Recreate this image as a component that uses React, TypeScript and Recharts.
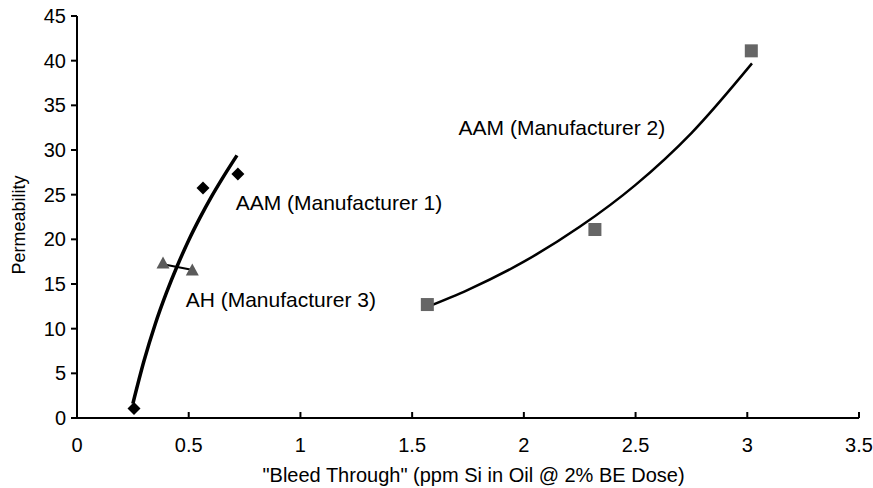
import React from 'react';
import { ComposedChart, XAxis, YAxis, Line, Scatter } from 'recharts';

// Marker data
const manufacturer1Points = [
  { x: 0.255, y: 1.05 },
  { x: 0.564, y: 25.75 },
  { x: 0.72, y: 27.3 },
];
const manufacturer2Points = [
  { x: 1.568, y: 12.7 },
  { x: 2.318, y: 21.1 },
  { x: 3.018, y: 41.1 },
];
const manufacturer3Points = [
  { x: 0.385, y: 17.3 },
  { x: 0.516, y: 16.5 },
];

// Trendlines, points
const trend1 = [
  { x: 0.25, y: 1.6 },
  { x: 0.3, y: 6.4 },
  { x: 0.35, y: 10.5 },
  { x: 0.4, y: 14.0 },
  { x: 0.45, y: 17.1 },
  { x: 0.5, y: 19.9 },
  { x: 0.55, y: 22.4 },
  { x: 0.6, y: 24.7 },
  { x: 0.65, y: 26.8 },
  { x: 0.716, y: 29.4 },
];
const trend2 = [
  { x: 1.564, y: 12.4 },
  { x: 1.75, y: 14.35 },
  { x: 2.0, y: 17.5 },
  { x: 2.25, y: 21.4 },
  { x: 2.5, y: 26.1 },
  { x: 2.75, y: 31.9 },
  { x: 3.021, y: 39.7 },
];
const trend3 = [
  { x: 0.385, y: 17.2 },
  { x: 0.513, y: 16.6 },
];

const annotations = [
  { x: 1.708, y: 31.72, label: 'AAM (Manufacturer 2)' },
  { x: 0.71, y: 23.33, label: 'AAM (Manufacturer 1)' },
  { x: 0.4865, y: 12.45, label: 'AH (Manufacturer 3)' },
];

const xTicks = [0, 0.5, 1, 1.5, 2, 2.5, 3, 3.5];
const yTicks = [0, 5, 10, 15, 20, 25, 30, 35, 40, 45];

const FONT = "Arial, 'Liberation Sans', sans-serif";

const Diamond = (p: any) => (
  <polygon
    points={`${p.cx},${p.cy - 6.5} ${p.cx + 6.5},${p.cy} ${p.cx},${p.cy + 6.5} ${p.cx - 6.5},${p.cy}`}
    fill="#000000"
  />
);
const Square = (p: any) => (
  <rect x={p.cx - 6.5} y={p.cy - 6.5} width={13} height={13} fill="#666666" />
);
const Triangle = (p: any) => (
  <polygon
    points={`${p.cx},${p.cy - 7} ${p.cx + 6.5},${p.cy + 5} ${p.cx - 6.5},${p.cy + 5}`}
    fill="#5a5a5a"
  />
);
const Annotation = (p: any) => (
  <text x={p.cx} y={p.cy} fontSize={21} fontFamily={FONT} fill="#000" textAnchor="start">
    {p.payload.label}
  </text>
);

const XTitle = (p: any) => {
  const vb = p.viewBox;
  return (
    <text x={473.5} y={vb.y + 64} fontSize={20} fontFamily={FONT} fill="#000" textAnchor="middle">
      "Bleed Through" (ppm Si in Oil @ 2% BE Dose)
    </text>
  );
};
const YTitle = (p: any) => {
  const vb = p.viewBox;
  const cy = 225;
  return (
    <text
      x={25}
      y={cy}
      fontSize={18}
      fontFamily={FONT}
      fill="#000"
      textAnchor="middle"
      transform={`rotate(-90, 25, ${cy})`}
    >
      Permeability
    </text>
  );
};

export default function App() {
  return (
    <div style={{ position: 'absolute', left: 0, top: 0, width: 873, height: 488, background: '#fff' }}>
      <ComposedChart width={873} height={488} margin={{ top: 16, right: 14, bottom: 0, left: 0 }}>
        <XAxis
          type="number"
          dataKey="x"
          domain={[0, 3.5]}
          ticks={xTicks}
          interval={0}
          height={70}
          tickSize={-6}
          tickMargin={26}
          axisLine={{ stroke: '#000', strokeWidth: 2 }}
          tickLine={{ stroke: '#000', strokeWidth: 2 }}
          tick={{ fill: '#000', fontSize: 20, fontFamily: FONT }}
          label={<XTitle />}
          allowDataOverflow
        />
        <YAxis
          type="number"
          dataKey="y"
          domain={[0, 45]}
          ticks={yTicks}
          interval={0}
          width={77}
          tickSize={6}
          tickMargin={5}
          axisLine={{ stroke: '#000', strokeWidth: 2 }}
          tickLine={{ stroke: '#000', strokeWidth: 2 }}
          tick={{ fill: '#000', fontSize: 20, fontFamily: FONT }}
          label={<YTitle />}
          allowDataOverflow
        />
        <Scatter data={manufacturer1Points} dataKey="y" shape={<Diamond />} isAnimationActive={false} />
        <Scatter data={manufacturer2Points} dataKey="y" shape={<Square />} isAnimationActive={false} />
        <Scatter data={manufacturer3Points} dataKey="y" shape={<Triangle />} isAnimationActive={false} />
        <Line data={trend1} dataKey="y" type="monotone" stroke="#000" strokeWidth={3.5} dot={false} activeDot={false} isAnimationActive={false} />
        <Line data={trend2} dataKey="y" type="monotone" stroke="#000" strokeWidth={2.5} dot={false} activeDot={false} isAnimationActive={false} />
        <Line data={trend3} dataKey="y" type="linear" stroke="#000" strokeWidth={2} dot={false} activeDot={false} isAnimationActive={false} />
        <Scatter data={annotations} dataKey="y" shape={<Annotation />} isAnimationActive={false} />
      </ComposedChart>
    </div>
  );
}
